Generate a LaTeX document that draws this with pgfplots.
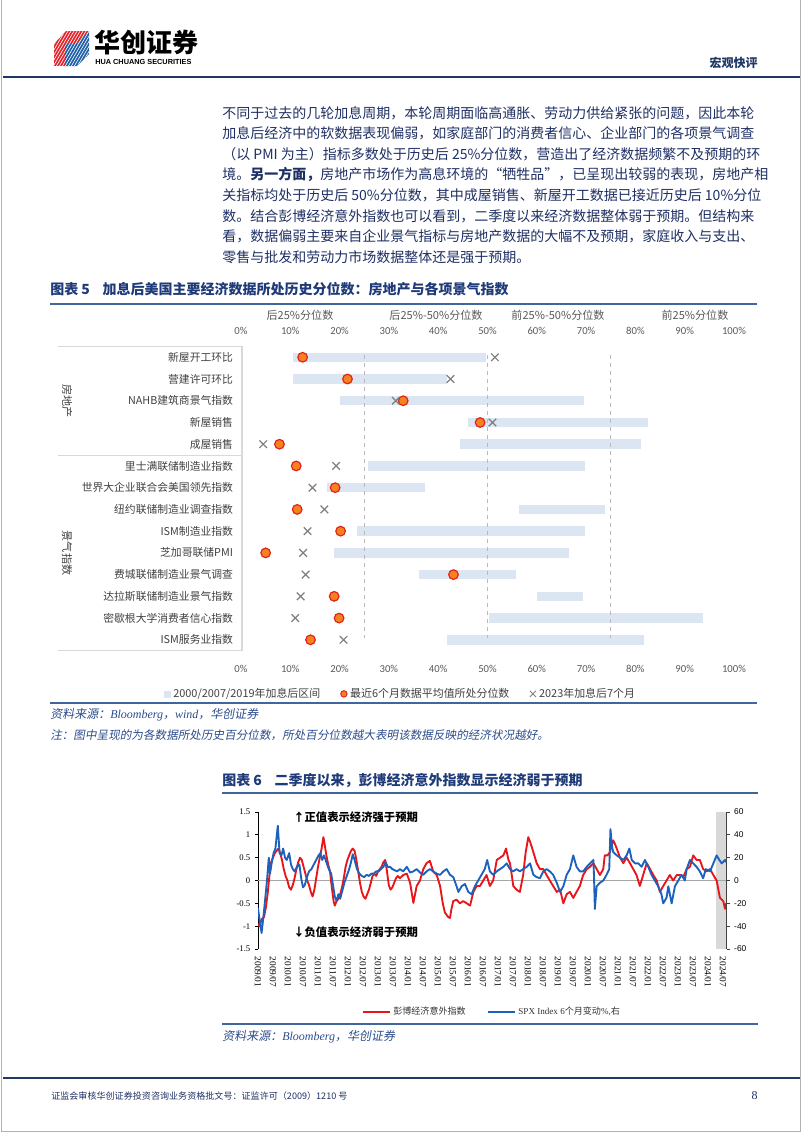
\documentclass[border=0pt]{standalone}
\usepackage{pgfplots}
\pgfplotsset{compat=1.18}
\usepackage{pgfplotstable}
\usepackage{fontspec}
\setmainfont{Liberation Serif}
\newfontfamily\cjk{Noto Sans CJK SC}
\newfontfamily\cjkit{Noto Sans CJK SC}[FakeSlant=0.18]
\newfontfamily\arial{Liberation Sans}
\newfontfamily\calibri{Carlito}

\definecolor{navy}{HTML}{1F3864}
\definecolor{bodyblue}{HTML}{1E2F63}
\definecolor{titleblue}{HTML}{1F3A78}
\definecolor{ruleblue}{HTML}{41669C}
\definecolor{srcblue}{HTML}{2B4C8C}
\definecolor{barblue}{HTML}{DCE6F2}
\definecolor{dotorange}{HTML}{F5821F}
\definecolor{dotred}{HTML}{E2231A}
\definecolor{crossgray}{HTML}{7F7F7F}
\definecolor{labgray}{HTML}{404040}
\definecolor{tickgray}{HTML}{595959}
\definecolor{sred}{HTML}{E8151B}
\definecolor{sblue}{HTML}{1C62BD}
\definecolor{logored}{HTML}{E0252B}
\definecolor{logoblue}{HTML}{1F5FA8}

% y = 15 - row (row 1 at top)
\pgfplotstableread{
y lo hi dot cross
14 10.5 49.7 12.5 51.5
13 10.5 41.7 21.6 42.5
12 20.1 69.6 32.9 31.4
11 46.1 82.6 48.5 51.0
10 44.4 81.2 7.8 4.5
9 25.8 69.8 11.2 19.3
8 17.4 37.4 19.1 14.5
7 56.3 73.9 11.4 16.9
6 23.6 69.8 20.2 13.5
5 18.9 66.5 5.0 12.6
4 36.1 55.7 43.1 13.1
3 60.0 69.3 18.9 12.1
2 50.3 93.8 19.9 11.0
1 41.7 81.7 14.1 20.8
}\tabfive

\begin{document}
\begin{tikzpicture}
\begin{scope}[x=0.75pt,y=-0.75pt]
\path[use as bounding box] (0,0) rectangle (802,1133);
% page frame
\draw[gray!60, line width=0.75pt] (1,0) -- (1,1131.5) -- (800.5,1131.5) -- (800.5,0);
% logo
\begin{scope}
\clip (54,44) -- (66,31) -- (89,31) -- (89,54) -- (77,66) -- (54,66) -- cycle;
\fill[logored] (54,44) -- (66,31) -- (89,31) -- (77,44) -- cycle;
\fill[logored] (54,44) -- (65,44) -- (65,66) -- (54,66) -- cycle;
\fill[logoblue] (65,44) -- (77,44) -- (89,31) -- (89,54) -- (77,66) -- (65,66) -- cycle;
\foreach \k in {0,3,...,66} {\draw[white, line width=0.45pt] (30+\k,70) -- (56+\k,26);}
\end{scope}
\node[anchor=west, inner sep=0] at (94,43) {\cjk\bfseries\fontsize{19.5pt}{20pt}\selectfont 华创证券};
\node[anchor=west, inner sep=0] at (95,61.5) {\arial\bfseries\fontsize{5.5pt}{6pt}\selectfont HUA CHUANG SECURITIES};
\node[anchor=east, inner sep=0, text=navy] at (758,63) {\cjk\bfseries\fontsize{9pt}{10pt}\selectfont 宏观快评};
\draw[navy, line width=1.6pt] (3,77) -- (800,77);

% paragraph
\begin{scope}[every node/.style={anchor=base west, inner sep=0, text=bodyblue, font=\cjk\fontsize{10.5pt}{12pt}\selectfont}]
\node at (222,118.0) {不同于过去的几轮加息周期，本轮周期面临高通胀、劳动力供给紧张的问题，因此本轮};
\node at (222,138.6) {加息后经济中的软数据表现偏弱，如家庭部门的消费者信心、企业部门的各项景气调查};
\node at (222,159.3) {（以 PMI 为主）指标多数处于历史后 25\%分位数，营造出了经济数据频繁不及预期的环};
\node at (222,179.9) {境。{\bfseries 另一方面，}房地产市场作为高息环境的“牺牲品”，已呈现出较弱的表现，房地产相};
\node at (222,200.6) {关指标均处于历史后 50\%分位数，其中成屋销售、新屋开工数据已接近历史后 10\%分位};
\node at (222,221.2) {数。结合彭博经济意外指数也可以看到，二季度以来经济数据整体弱于预期。但结构来};
\node at (222,241.9) {看，数据偏弱主要来自企业景气指标与房地产数据的大幅不及预期，家庭收入与支出、};
\node at (222,262.5) {零售与批发和劳动力市场数据整体还是强于预期。};
\end{scope}

% chart 5 title
\node[anchor=west, inner sep=0, text=titleblue] at (50,289) {\cjk\bfseries\fontsize{10.5pt}{12pt}\selectfont 图表 5\hspace{0.9em}加息后美国主要经济数据所处历史分位数：房地产与各项景气指数};
\draw[ruleblue, line width=1.5pt] (50,304) -- (757,304);
\begin{scope}[every node/.style={inner sep=0, text=tickgray, font=\cjk\fontsize{8.3pt}{9pt}\selectfont}]
\node at (300,315) {后25\%分位数};
\node at (436,315) {后25\%-50\%分位数};
\node at (558,315) {前25\%-50\%分位数};
\node at (695,315) {前25\%分位数};
\end{scope}
% table frame
\draw[gray!30, line width=1pt] (58,346.4) -- (242,346.4);
\draw[gray!30, line width=1pt] (58,455.3) -- (242,455.3);
\draw[gray!30, line width=1pt] (58,650.7) -- (242,650.7);
\draw[gray!30, line width=1pt] (242,346.4) -- (242,650.7);
\node[rotate=-90, inner sep=0, text=labgray, font=\cjk\fontsize{8.3pt}{9pt}\selectfont] at (67,401) {房地产};
\node[rotate=-90, inner sep=0, text=labgray, font=\cjk\fontsize{8.3pt}{9pt}\selectfont] at (67,553) {景气指数};
% chart 5 sources
\draw[ruleblue, line width=1.5pt] (50,703) -- (757,703);
\node[anchor=west, inner sep=0, text=srcblue] at (50,715) {\fontsize{9pt}{10pt}\selectfont{\cjkit 资料来源：}{\itshape Bloomberg}{\cjkit ，}{\itshape wind}{\cjkit ，华创证券}};
\node[anchor=west, inner sep=0, text=srcblue] at (50,735) {\cjkit\fontsize{8.7pt}{10pt}\selectfont 注：图中呈现的为各数据所处历史百分位数，所处百分位数越大表明该数据反映的经济状况越好。};

% chart 6 title
\node[anchor=west, inner sep=0, text=titleblue] at (222,780) {\cjk\bfseries\fontsize{10.5pt}{12pt}\selectfont 图表 6\hspace{0.9em}二季度以来，彭博经济意外指数显示经济弱于预期};
\draw[ruleblue, line width=1.5pt] (222,793) -- (758,793);
% chart 6 sources
\draw[ruleblue, line width=1.5pt] (222,1024) -- (758,1024);
\node[anchor=west, inner sep=0, text=srcblue] at (222,1037) {\fontsize{9pt}{10pt}\selectfont{\cjkit 资料来源：}{\itshape Bloomberg}{\cjkit ，华创证券}};

% footer
\draw[navy, line width=1.6pt] (3,1078) -- (800,1078);
\node[anchor=west, inner sep=0, text=bodyblue] at (51,1096) {\cjk\fontsize{6.8pt}{8pt}\selectfont 证监会审核华创证券投资咨询业务资格批文号：证监许可（2009）1210 号};
\node[anchor=east, inner sep=0, text=bodyblue] at (758,1096) {\fontsize{9pt}{10pt}\selectfont 8};
\end{scope}

%================ chart 5 ================
\begin{axis}[
  at={(0.75*241pt,-0.75*346.4pt)}, anchor=north west,
  scale only axis, width=369.75pt, height=228.2pt,
  xmin=0, xmax=100, ymin=0.5, ymax=14.5,
  axis line style={draw=none}, major tick length=0pt,
  xtick={0,10,...,100},
  xticklabels={0\%,10\%,20\%,30\%,40\%,50\%,60\%,70\%,80\%,90\%,100\%},
  xticklabel style={font=\calibri\fontsize{8pt}{9pt}\selectfont, text=tickgray, text height=5.6pt, text depth=0.6pt, yshift=-7pt},
  ytick={1,...,14},
  yticklabels={ISM服务业指数,密歇根大学消费者信心指数,达拉斯联储制造业景气指数,费城联储制造业景气调查,芝加哥联储PMI,ISM制造业指数,纽约联储制造业调查指数,世界大企业联合会美国领先指数,里士满联储制造业指数,成屋销售,新屋销售,NAHB建筑商景气指数,营建许可环比,新屋开工环比},
  yticklabel style={font=\cjk\fontsize{8.1pt}{9pt}\selectfont, text=labgray, xshift=-2.5pt},
  legend columns=3, legend cell align=left,
  legend style={draw=none, fill=none, at={(-0.165,-0.142)}, anchor=west,
    font=\cjk\fontsize{8.2pt}{9pt}\selectfont, text=labgray,
    /tikz/every even column/.append style={column sep=13pt}},
]
\addlegendimage{legend image code/.code={\fill[barblue] (0pt,-2.3pt) rectangle (4.6pt,2.3pt);}}
\addlegendentry{2000/2007/2019年加息后区间}
\addlegendimage{legend image code/.code={\filldraw[fill=dotorange, draw=dotred, line width=0.7pt] (2.3pt,0pt) circle (2.4pt);}}
\addlegendentry{最近6个月数据平均值所处分位数}
\addlegendimage{legend image code/.code={\draw[crossgray, line width=0.7pt] (0pt,-2.3pt) -- (4.6pt,2.3pt) (0pt,2.3pt) -- (4.6pt,-2.3pt);}}
\addlegendentry{2023年加息后7个月}

\addplot[barblue, line width=7.1pt, forget plot] coordinates {(10.5,14) (49.7,14)};
\addplot[barblue, line width=7.1pt, forget plot] coordinates {(10.5,13) (41.7,13)};
\addplot[barblue, line width=7.1pt, forget plot] coordinates {(20.1,12) (69.6,12)};
\addplot[barblue, line width=7.1pt, forget plot] coordinates {(46.1,11) (82.6,11)};
\addplot[barblue, line width=7.1pt, forget plot] coordinates {(44.4,10) (81.2,10)};
\addplot[barblue, line width=7.1pt, forget plot] coordinates {(25.8,9) (69.8,9)};
\addplot[barblue, line width=7.1pt, forget plot] coordinates {(17.4,8) (37.4,8)};
\addplot[barblue, line width=7.1pt, forget plot] coordinates {(56.3,7) (73.9,7)};
\addplot[barblue, line width=7.1pt, forget plot] coordinates {(23.6,6) (69.8,6)};
\addplot[barblue, line width=7.1pt, forget plot] coordinates {(18.9,5) (66.5,5)};
\addplot[barblue, line width=7.1pt, forget plot] coordinates {(36.1,4) (55.7,4)};
\addplot[barblue, line width=7.1pt, forget plot] coordinates {(60.0,3) (69.3,3)};
\addplot[barblue, line width=7.1pt, forget plot] coordinates {(50.3,2) (93.8,2)};
\addplot[barblue, line width=7.1pt, forget plot] coordinates {(41.7,1) (81.7,1)};

\addplot[gray!55, dashed, line width=0.6pt, forget plot] coordinates {(25,14.1) (25,1.1)};
\addplot[gray!55, dashed, line width=0.6pt, forget plot] coordinates {(50,14.1) (50,1.1)};
\addplot[gray!55, dashed, line width=0.6pt, forget plot] coordinates {(75,14.1) (75,1.1)};

\addplot[only marks, mark=*, mark size=3.6pt, mark options={fill=dotorange, draw=dotred, line width=0.9pt}, forget plot] table[x=dot, y=y]{\tabfive};
\addplot[only marks, mark=x, mark size=4pt, mark options={draw=crossgray, line width=0.9pt}, forget plot] table[x=cross, y=y]{\tabfive};
\end{axis}

\begin{axis}[
  at={(0.75*241pt,-0.75*346.4pt)}, anchor=north west,
  scale only axis, width=369.75pt, height=228.2pt,
  xmin=0, xmax=100, ymin=0.5, ymax=14.5,
  axis line style={draw=none}, major tick length=0pt,
  xticklabel pos=right, ytick=\empty,
  xtick={0,10,...,100},
  xticklabels={0\%,10\%,20\%,30\%,40\%,50\%,60\%,70\%,80\%,90\%,100\%},
  xticklabel style={font=\calibri\fontsize{8pt}{9pt}\selectfont, text=tickgray, text height=5.6pt, text depth=0.6pt, yshift=4.8pt},
]
\end{axis}

%================ chart 6 ================
\begin{axis}[
  at={(0.75*258pt,-0.75*812pt)}, anchor=north west,
  scale only axis, width=351.4pt, height=102.75pt,
  xmin=2009, xmax=2024.62, ymin=-1.5, ymax=1.5,
  axis x line*=bottom, axis y line*=left,
  x axis line style={draw=none},
  y axis line style={black, line width=0.6pt},
  xtick={2009,2009.5,...,2024.5},
  xticklabels={2009/01,2009/07,2010/01,2010/07,2011/01,2011/07,2012/01,2012/07,2013/01,2013/07,2014/01,2014/07,2015/01,2015/07,2016/01,2016/07,2017/01,2017/07,2018/01,2018/07,2019/01,2019/07,2020/01,2020/07,2021/01,2021/07,2022/01,2022/07,2023/01,2023/07,2024/01,2024/07},
  xticklabel style={rotate=-90, anchor=west, font=\fontsize{7pt}{8pt}\selectfont},
  xtick style={draw=none},
  ytick={-1.5,-1,-0.5,0,0.5,1,1.5},
  yticklabels={-1.5,-1,-0.5,0,0.5,1,1.5},
  yticklabel style={font=\fontsize{6.5pt}{7pt}\selectfont},
  ytick style={black, line width=0.6pt},
  tick align=outside, major tick length=2.25pt,
]
\fill[gray!30] (axis cs:2024.27,-1.5) rectangle (axis cs:2024.62,1.5);
\draw[gray!70, line width=0.6pt] (axis cs:2009,0) -- (axis cs:2024.62,0);
\addplot[sred, line width=1.4pt, line join=round] table[row sep=\\]{
t y\\
2009.00 -0.95\\ 2009.05 -1.00\\ 2009.12 -0.85\\ 2009.20 -0.80\\ 2009.26 -0.60\\ 2009.32 -0.30\\
2009.38 0.10\\ 2009.44 0.40\\ 2009.50 0.50\\ 2009.56 0.60\\ 2009.62 0.65\\ 2009.68 0.70\\
2009.74 0.60\\ 2009.80 0.45\\ 2009.86 0.25\\ 2009.92 0.10\\ 2009.98 0.00\\ 2010.04 -0.15\\
2010.10 -0.20\\ 2010.16 -0.10\\ 2010.22 0.05\\ 2010.28 0.25\\ 2010.34 0.40\\ 2010.40 0.50\\
2010.46 0.45\\ 2010.52 0.30\\ 2010.58 0.15\\ 2010.64 0.00\\ 2010.70 -0.10\\ 2010.76 -0.25\\
2010.82 -0.35\\ 2010.88 -0.20\\ 2010.94 0.05\\ 2011.00 0.30\\ 2011.06 0.50\\ 2011.12 0.70\\
2011.18 0.95\\ 2011.22 0.80\\ 2011.28 0.55\\ 2011.34 0.35\\ 2011.40 0.20\\ 2011.46 -0.15\\
2011.52 -0.45\\ 2011.56 -0.55\\ 2011.62 -0.45\\ 2011.68 -0.40\\ 2011.74 -0.30\\ 2011.80 -0.15\\
2011.86 0.05\\ 2011.92 0.30\\ 2011.98 0.45\\ 2012.04 0.55\\ 2012.10 0.65\\ 2012.16 0.70\\
2012.22 0.65\\ 2012.28 0.45\\ 2012.34 0.20\\ 2012.40 -0.05\\ 2012.46 -0.25\\ 2012.52 -0.35\\
2012.58 -0.40\\ 2012.64 -0.30\\ 2012.70 -0.20\\ 2012.76 -0.05\\ 2012.82 0.10\\ 2012.88 0.15\\
2012.94 0.10\\ 2013.00 0.20\\ 2013.06 0.25\\ 2013.12 0.30\\ 2013.18 0.40\\ 2013.24 0.45\\
2013.30 0.20\\ 2013.36 -0.10\\ 2013.42 -0.20\\ 2013.48 -0.15\\ 2013.54 -0.05\\ 2013.60 0.05\\
2013.66 0.10\\ 2013.73 0.05\\ 2013.84 0.12\\ 2013.96 0.15\\ 2014.07 -0.05\\ 2014.18 -0.49\\
2014.29 -0.12\\ 2014.40 0.00\\ 2014.51 0.25\\ 2014.62 0.38\\ 2014.73 0.43\\ 2014.84 0.20\\
2014.96 0.12\\ 2015.07 -0.12\\ 2015.16 -0.50\\ 2015.23 -0.70\\ 2015.34 -0.80\\ 2015.40 -0.82\\
2015.45 -0.62\\ 2015.51 -0.45\\ 2015.62 -0.42\\ 2015.73 -0.50\\ 2015.84 -0.45\\ 2015.96 -0.50\\
2016.07 -0.55\\ 2016.18 -0.25\\ 2016.29 -0.12\\ 2016.40 -0.12\\ 2016.51 0.00\\ 2016.62 0.12\\
2016.73 -0.12\\ 2016.84 0.00\\ 2016.96 0.45\\ 2017.07 0.50\\ 2017.18 0.55\\ 2017.27 0.70\\
2017.35 0.45\\ 2017.40 0.38\\ 2017.46 0.12\\ 2017.51 -0.12\\ 2017.62 -0.20\\ 2017.73 -0.25\\
2017.84 0.12\\ 2017.92 0.60\\ 2018.01 0.95\\ 2018.07 0.85\\ 2018.12 0.75\\ 2018.18 0.62\\
2018.29 0.38\\ 2018.40 0.25\\ 2018.51 0.25\\ 2018.62 0.12\\ 2018.73 0.00\\ 2018.84 -0.12\\
2018.96 -0.25\\ 2019.07 -0.20\\ 2019.18 -0.50\\ 2019.29 -0.30\\ 2019.40 -0.25\\ 2019.51 -0.38\\
2019.62 -0.25\\ 2019.73 -0.12\\ 2019.84 0.12\\ 2019.96 0.25\\ 2020.07 0.30\\ 2020.18 0.38\\
2020.29 0.25\\ 2020.40 0.12\\ 2020.51 0.25\\ 2020.56 0.55\\ 2020.65 0.55\\ 2020.73 0.62\\
2020.84 0.88\\ 2020.90 0.80\\ 2020.96 0.70\\ 2021.07 0.50\\ 2021.18 0.38\\ 2021.29 0.50\\
2021.40 0.38\\ 2021.51 0.25\\ 2021.62 0.12\\ 2021.73 -0.12\\ 2021.84 0.12\\ 2021.96 0.38\\
2022.07 0.25\\ 2022.18 0.12\\ 2022.29 0.00\\ 2022.40 -0.25\\ 2022.51 -0.12\\ 2022.62 0.00\\
2022.73 0.12\\ 2022.84 0.00\\ 2022.96 0.12\\ 2023.07 0.12\\ 2023.18 0.08\\ 2023.29 0.25\\
2023.40 0.30\\ 2023.51 0.55\\ 2023.62 0.45\\ 2023.73 0.45\\ 2023.84 0.25\\ 2023.96 0.20\\
2024.07 0.25\\ 2024.18 0.12\\ 2024.29 0.00\\ 2024.40 -0.38\\ 2024.51 -0.45\\ 2024.57 -0.62\\
2024.60 -0.50\\
};
\end{axis}

\begin{axis}[
  at={(0.75*258pt,-0.75*812pt)}, anchor=north west,
  scale only axis, width=351.4pt, height=102.75pt,
  xmin=2009, xmax=2024.62, ymin=-60, ymax=60,
  axis x line=none, axis y line*=right,
  y axis line style={black!75, line width=0.6pt},
  ytick={-60,-40,-20,0,20,40,60},
  yticklabels={-60,-40,-20,0,20,40,60},
  yticklabel style={font=\arial\fontsize{6.3pt}{7pt}\selectfont},
  ytick style={black!75, line width=0.6pt},
  tick align=outside, major tick length=2.25pt,
  legend columns=2,
  legend style={draw=none, fill=none, at={(0.5,-0.46)}, anchor=center,
    font=\fontsize{6.8pt}{8pt}\selectfont, text=black!80,
    /tikz/every even column/.append style={column sep=14pt}},
  legend image code/.code={\draw[#1, line width=1.5pt] (0pt,0pt) -- (20pt,0pt);},
]
\addplot[sblue, line width=1.4pt, line join=round, forget plot] table[row sep=\\]{
t y\\
2009.00 -24\\ 2009.06 -36\\ 2009.12 -46\\ 2009.18 -32\\ 2009.24 -16\\ 2009.30 0\\
2009.36 20\\ 2009.40 6\\ 2009.46 16\\ 2009.52 24\\ 2009.58 28\\ 2009.66 48\\
2009.72 24\\ 2009.78 22\\ 2009.84 28\\ 2009.90 20\\ 2009.96 18\\ 2010.04 24\\
2010.10 14\\ 2010.16 10\\ 2010.22 8\\ 2010.30 12\\ 2010.38 14\\ 2010.44 2\\
2010.50 -6\\ 2010.56 -4\\ 2010.62 2\\ 2010.70 8\\ 2010.78 10\\ 2010.86 14\\
2010.94 18\\ 2011.02 22\\ 2011.08 24\\ 2011.14 18\\ 2011.20 22\\ 2011.28 16\\
2011.36 10\\ 2011.44 6\\ 2011.50 -4\\ 2011.56 -14\\ 2011.62 -18\\ 2011.68 -12\\
2011.74 -16\\ 2011.80 -10\\ 2011.88 -2\\ 2011.96 4\\ 2012.04 10\\ 2012.10 16\\
2012.16 23\\ 2012.22 18\\ 2012.30 10\\ 2012.38 6\\ 2012.46 4\\ 2012.54 3\\
2012.62 5\\ 2012.70 4\\ 2012.78 6\\ 2012.86 6\\ 2012.94 8\\ 2013.02 8\\
2013.10 10\\ 2013.18 12\\ 2013.26 16\\ 2013.32 12\\ 2013.40 12\\ 2013.48 10\\
2013.56 9\\ 2013.64 8\\ 2013.73 10\\ 2013.84 8\\ 2013.96 12\\ 2014.07 7\\
2014.18 8\\ 2014.29 10\\ 2014.40 7\\ 2014.51 5\\ 2014.62 8\\ 2014.73 10\\
2014.84 8\\ 2014.96 6\\ 2015.07 5\\ 2015.18 8\\ 2015.29 10\\ 2015.40 5\\
2015.51 3\\ 2015.62 -5\\ 2015.68 -10\\ 2015.79 -5\\ 2015.90 -3\\ 2016.01 -10\\
2016.12 -12\\ 2016.23 -5\\ 2016.34 0\\ 2016.45 5\\ 2016.56 10\\ 2016.64 18\\
2016.73 8\\ 2016.84 5\\ 2016.96 8\\ 2017.07 10\\ 2017.18 12\\ 2017.29 15\\
2017.40 10\\ 2017.51 8\\ 2017.62 10\\ 2017.73 8\\ 2017.84 10\\ 2017.96 12\\
2018.07 15\\ 2018.18 5\\ 2018.29 3\\ 2018.40 2\\ 2018.51 8\\ 2018.62 10\\
2018.73 8\\ 2018.84 5\\ 2018.96 -2\\ 2019.07 -10\\ 2019.18 -5\\ 2019.29 5\\
2019.40 10\\ 2019.51 22\\ 2019.62 12\\ 2019.73 8\\ 2019.84 8\\ 2019.96 12\\
2020.07 15\\ 2020.18 18\\ 2020.20 5\\ 2020.23 -25\\ 2020.29 -5\\ 2020.40 -2\\
2020.51 0\\ 2020.62 5\\ 2020.71 10\\ 2020.75 45\\ 2020.80 30\\ 2020.84 25\\
2020.96 22\\ 2021.07 20\\ 2021.18 18\\ 2021.29 22\\ 2021.38 28\\ 2021.46 18\\
2021.57 15\\ 2021.68 15\\ 2021.79 12\\ 2021.90 18\\ 2022.01 12\\ 2022.12 5\\
2022.23 0\\ 2022.34 -5\\ 2022.45 -12\\ 2022.51 -20\\ 2022.62 -15\\ 2022.68 -5\\
2022.79 -20\\ 2022.90 -5\\ 2023.01 0\\ 2023.12 5\\ 2023.23 0\\ 2023.29 10\\
2023.40 18\\ 2023.51 15\\ 2023.62 12\\ 2023.73 8\\ 2023.84 2\\ 2023.93 10\\
2024.07 8\\ 2024.18 15\\ 2024.29 22\\ 2024.38 18\\ 2024.46 15\\ 2024.57 18\\
2024.60 16\\
};
\addlegendimage{sred}
\addlegendentry{{\cjk 彭博经济意外指数}}
\addlegendimage{sblue}
\addlegendentry{SPX Index 6{\cjk 个月变动}\%,{\cjk 右}}
\end{axis}

\begin{scope}[x=0.75pt,y=-0.75pt]
\node[anchor=west, inner sep=0] at (293,817) {\cjk\bfseries\fontsize{8.5pt}{9pt}\selectfont ↑正值表示经济强于预期};
\node[anchor=west, inner sep=0] at (293,932) {\cjk\bfseries\fontsize{8.5pt}{9pt}\selectfont ↓负值表示经济弱于预期};
\end{scope}
\end{tikzpicture}
\end{document}
